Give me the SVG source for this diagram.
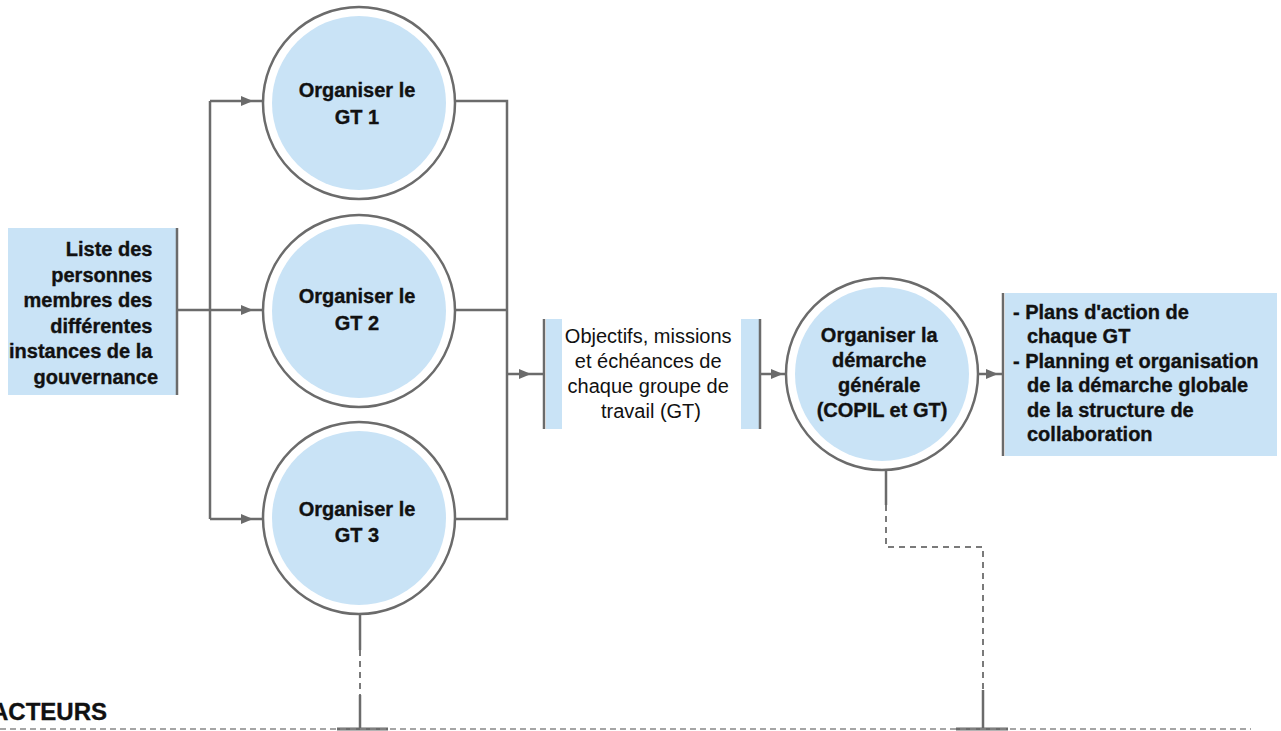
<svg xmlns="http://www.w3.org/2000/svg" width="1281" height="731" viewBox="0 0 1281 731">
<defs>
<marker id="arr" viewBox="0 0 12 10" refX="12" refY="5" markerWidth="12" markerHeight="10" markerUnits="userSpaceOnUse" orient="auto">
<path d="M0,0 L12,5 L0,10 z" fill="#6b6b6b"/>
</marker>
</defs>
<style>
.ln{stroke:#6b6b6b;stroke-width:2.5;fill:none}
.dl{stroke:#7a7a7a;stroke-width:2;fill:none;stroke-dasharray:6 5}
.base{stroke:#888;stroke-width:1.6;fill:none;stroke-dasharray:6 4}
.bar{stroke:#6b6b6b;stroke-width:3;fill:none}
.ring{fill:#fff;stroke:#6b6b6b;stroke-width:2.5}
.fill{fill:#c9e3f6}
.b{font-family:"Liberation Sans",Arial,Helvetica,sans-serif;font-weight:bold;font-size:20px;fill:#111;stroke:#111;stroke-width:0.35}
.r{font-family:"Liberation Sans",Arial,Helvetica,sans-serif;font-size:20px;fill:#111}
</style>
<rect width="1281" height="731" fill="#fff"/>

<g id="connectors">
<path class="ln" d="M177,310 H253" marker-end="url(#arr)"/>
<path class="ln" d="M253,310 H262"/>
<path class="ln" d="M210,101 V519"/>
<path class="ln" d="M210,101 H253" marker-end="url(#arr)"/>
<path class="ln" d="M253,101 H263"/>
<path class="ln" d="M210,519 H253" marker-end="url(#arr)"/>
<path class="ln" d="M253,519 H263"/>
<path class="ln" d="M456,101 H507 V519 H456"/>
<path class="ln" d="M456,310 H507"/>
<path class="ln" d="M507,374 H531" marker-end="url(#arr)"/>
<path class="ln" d="M531,374 H544"/>
<path class="ln" d="M760,374 H783" marker-end="url(#arr)"/>
<path class="ln" d="M783,374 H787"/>
<path class="ln" d="M978,374 H998" marker-end="url(#arr)"/>
<path class="ln" d="M998,374 H1003"/>
<path class="ln" d="M360,614 V650"/>
<path class="dl" d="M360,650 V695"/>
<path class="ln" d="M360,695 V729"/>
<path class="bar" d="M337,729 H388"/>
<path class="ln" d="M886,470 V505"/>
<path class="dl" d="M886,505 V547 H983 V690"/>
<path class="ln" d="M983,690 V729"/>
<path class="bar" d="M956,729 H1008"/>
</g>

<g id="baseline">
<path class="base" d="M0,729 H1251"/>
<text class="b" x="107" y="720" text-anchor="end" style="font-size:24px">ACTEURS</text>
</g>

<g id="input">
<rect class="fill" x="8" y="228" width="169" height="167"/>
<path class="ln" d="M177,228 V395"/>
<text class="b" text-anchor="end">
<tspan x="158" y="256">Liste des</tspan>
<tspan x="158" y="281.5">personnes</tspan>
<tspan x="158" y="307">membres des</tspan>
<tspan x="158" y="332.5">différentes</tspan>
<tspan x="158" y="358">instances de la</tspan>
<tspan x="158" y="383.5">gouvernance</tspan>
</text>
</g>

<g id="gt1">
<circle class="ring" cx="359" cy="103" r="96"/>
<circle class="fill" cx="359" cy="103" r="87"/>
<text class="b" text-anchor="middle"><tspan x="357" y="97">Organiser le</tspan><tspan x="357" y="124">GT 1</tspan></text>
</g>

<g id="gt2">
<circle class="ring" cx="359" cy="311" r="96"/>
<circle class="fill" cx="359" cy="311" r="87"/>
<text class="b" text-anchor="middle"><tspan x="357" y="303">Organiser le</tspan><tspan x="357" y="330">GT 2</tspan></text>
</g>

<g id="gt3">
<circle class="ring" cx="359" cy="518" r="96"/>
<circle class="fill" cx="359" cy="518" r="87"/>
<text class="b" text-anchor="middle"><tspan x="357" y="516">Organiser le</tspan><tspan x="357" y="542">GT 3</tspan></text>
</g>

<g id="objectifs">
<path class="ln" d="M544,319 V429"/>
<rect class="fill" x="546" y="319" width="16" height="110"/>
<rect class="fill" x="741" y="319" width="18" height="110"/>
<path class="ln" d="M760,319 V429"/>
<text class="r" text-anchor="middle">
<tspan x="651" y="343">Objectifs, missions</tspan>
<tspan x="651" y="368">et échéances de</tspan>
<tspan x="651" y="393">chaque groupe de</tspan>
<tspan x="651" y="418">travail (GT)</tspan>
</text>
</g>

<g id="demarche">
<circle class="ring" cx="882" cy="374" r="96"/>
<circle class="fill" cx="882" cy="374" r="87"/>
<text class="b" text-anchor="middle">
<tspan x="882" y="342">Organiser la</tspan>
<tspan x="882" y="367">démarche</tspan>
<tspan x="882" y="392">générale</tspan>
<tspan x="882" y="417">(COPIL et GT)</tspan>
</text>
</g>

<g id="output">
<rect class="fill" x="1005" y="293" width="272" height="163"/>
<path class="ln" d="M1003,293 V456"/>
<text class="b">
<tspan x="1013" y="319">- Plans d'action de</tspan>
<tspan x="1027" y="343">chaque GT</tspan>
<tspan x="1013" y="368">- Planning et organisation</tspan>
<tspan x="1027" y="392">de la démarche globale</tspan>
<tspan x="1027" y="417">de la structure de</tspan>
<tspan x="1027" y="441">collaboration</tspan>
</text>
</g>
</svg>
